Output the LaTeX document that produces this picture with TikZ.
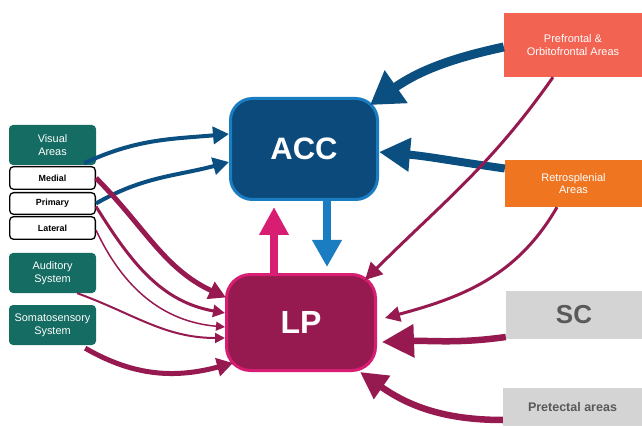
\documentclass[tikz,border=0pt]{standalone}
\usepackage{fontspec}
\setmainfont{Liberation Sans}
\usetikzlibrary{arrows.meta}
\definecolor{teal1}{HTML}{146C62}
\definecolor{accfill}{HTML}{0B4A7B}
\definecolor{accbord}{HTML}{1A7CC1}
\definecolor{lpfill}{HTML}{961A50}
\definecolor{lpbord}{HTML}{D81E72}
\definecolor{barr}{HTML}{0B4F80}
\definecolor{marr}{HTML}{961A50}
\definecolor{pfcol}{HTML}{F26352}
\definecolor{rscol}{HTML}{F07521}
\definecolor{gcol}{HTML}{D4D4D4}
\definecolor{gtext}{HTML}{595959}
\tikzset{
  tealbox/.style={fill=teal1, rounded corners=4pt, text=white, align=center,
    minimum width=87pt, minimum height=40pt, inner sep=0pt,
    font=\fontsize{10.9}{12.8}\selectfont},
  subbox/.style={fill=white, draw=black, line width=1.3pt, rounded corners=4pt,
    minimum width=85.7pt, inner sep=0pt, font=\bfseries\fontsize{8.9}{10}\selectfont},
  rightbox/.style={text=white, align=center, inner sep=0pt,
    font=\fontsize{11}{12.5}\selectfont},
  graybox/.style={fill=gcol, text=gtext, align=center, inner sep=0pt, font=\bfseries},
  barrow/.style={draw=barr},
  marrow/.style={draw=marr},
}
\begin{document}
\begin{tikzpicture}[x=1pt,y=1pt]
\useasboundingbox (0,0) rectangle (642,426);
% left boxes
\node[tealbox] (vis) at (52.5,281) {Visual\\Areas};
\node[subbox, minimum height=22.7pt] (med) at (52.5,248) {Medial};
\node[subbox, minimum height=21.7pt] (pri) at (52.5,222.5) {Primary};
\node[subbox, minimum height=22.7pt] (lat) at (52.5,198) {Lateral};
\node[tealbox] (aud) at (52.5,153) {Auditory\\System};
\node[tealbox] (som) at (52.5,101) {Somatosensory\\System};
% central boxes
\node[fill=accfill, draw=accbord, line width=3pt, rounded corners=22pt,
  minimum width=147pt, minimum height=101pt, text=white,
  font=\bfseries\fontsize{31}{34}\selectfont] (acc) at (304,277) {ACC};
\node[fill=lpfill, draw=lpbord, line width=3pt, rounded corners=24pt,
  minimum width=149pt, minimum height=96pt, text=white,
  font=\bfseries\fontsize{32}{35}\selectfont] (lp) at (301,103.5) {LP};
% right boxes
\node[rightbox, fill=pfcol, minimum width=138pt, minimum height=64pt] (pf) at (573,381) {Prefrontal \&\\Orbitofrontal Areas};
\node[rightbox, fill=rscol, minimum width=137pt, minimum height=47pt] (rs) at (573.5,242.5) {Retrosplenial\\Areas};
\node[graybox, minimum width=136pt, minimum height=48pt, font=\bfseries\fontsize{26}{28}\selectfont] (sc) at (574,111) {SC};
\node[graybox, minimum width=139pt, minimum height=38pt, font=\bfseries\fontsize{12.5}{14}\selectfont] (pt) at (572.5,19) {Pretectal areas};
% blue arrows
\draw[barrow, line width=4pt, -{Triangle[length=16pt,width=17pt]}]
  ([xshift=-12pt,yshift=2pt]vis.south east) to[out=25,in=185] ([yshift=15pt]acc.west);
\draw[barrow, line width=4pt, -{Triangle[length=16pt,width=17pt]}]
  (pri.east) to[out=30,in=195] ([yshift=-13pt]acc.west);
\draw[barrow, line width=9pt, -{Triangle[length=32pt,width=38pt]}]
  ([yshift=-2pt]pf.west) to[out=192,in=35] ([xshift=-9pt,yshift=-8pt]acc.north east);
\draw[barrow, line width=8pt, -{Triangle[length=31pt,width=32pt]}]
  ([yshift=15pt]rs.west) to[out=172,in=-5] ([yshift=-3pt]acc.east);
\draw[draw=accbord, line width=8pt, -{Triangle[length=27pt,width=28pt]}]
  ([xshift=23pt]acc.south) -- ([xshift=26pt,yshift=6pt]lp.north);
\draw[draw=lpbord, line width=8pt, -{Triangle[length=28pt,width=28pt]}]
  ([xshift=-27pt]lp.north) -- ([xshift=-30pt,yshift=-6pt]acc.south);
% maroon arrows from left
\draw[marrow, line width=5pt, -{Triangle[length=17pt,width=18pt]}]
  (med.east) to[out=-45,in=155] ([xshift=1pt,yshift=25pt]lp.west);
\draw[marrow, line width=3pt, -{Triangle[length=12pt,width=12pt]}]
  ([yshift=-3pt]pri.east) to[out=-58,in=170] ([yshift=9.5pt]lp.west);
\draw[marrow, line width=1.5pt, -{Triangle[length=9pt,width=9pt]}]
  ([yshift=-2pt]lat.east) to[out=-65,in=175] ([yshift=-4.5pt]lp.west);
\draw[marrow, line width=2pt, -{Triangle[length=10pt,width=10pt]}]
  ([xshift=-19pt]aud.south east) to[out=-20,in=180] ([yshift=-15.5pt]lp.west);
\draw[marrow, line width=5pt, -{Triangle[length=16pt,width=18pt]}]
  ([xshift=-11pt,yshift=-3pt]som.south east) to[out=-30,in=195] ([xshift=8pt,yshift=9pt]lp.south west);
% maroon arrows from right
\draw[marrow, line width=3pt, -{Triangle[length=17pt,width=17pt]}]
  ([xshift=-20pt]pf.south) to[out=235,in=45] ([xshift=-12pt,yshift=-7pt]lp.north east);
\draw[marrow, line width=3pt, -{Triangle[length=15pt,width=15pt]}]
  ([xshift=-16.5pt]rs.south) to[out=240,in=15] ([xshift=8pt,yshift=4.5pt]lp.east);
\draw[marrow, line width=6.5pt, -{Triangle[length=32pt,width=32pt]}]
  ([yshift=-22pt]sc.west) to[out=188,in=2] ([xshift=5pt,yshift=-19.5pt]lp.east);
\draw[marrow, line width=6.5pt, -{Triangle[length=27pt,width=27pt]}]
  ([yshift=-13pt]pt.west) to[out=180,in=-35] ([xshift=-17pt]lp.south east);
\end{tikzpicture}
\end{document}
